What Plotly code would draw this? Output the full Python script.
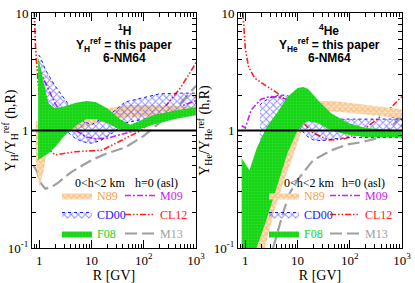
import plotly.graph_objects as go

# ================= data: left panel (1H) =================
H_N89_R  = [0.85, 1.0, 1.2, 1.5, 2, 3, 5, 10, 20, 50, 100, 300, 1000]
H_N89_lo = [0.55, 0.33, 0.45, 0.8, 0.88, 0.95, 1.02, 1.12, 1.22, 1.3, 1.3, 1.33, 1.35]
H_N89_hi = [1.2, 1.2, 1.15, 1.1, 1.12, 1.18, 1.28, 1.42, 1.55, 1.65, 1.65, 1.62, 1.6]

H_CD00_R  = [0.97, 1.05, 1.3, 1.6, 2, 3.2, 5, 7, 10, 15, 25, 44, 100, 200, 500, 1000]
H_CD00_lo = [2.8, 2.6, 1.9, 1.5, 1.25, 1.0, 0.85, 0.8, 0.78, 0.82, 0.95, 1.16, 1.25, 1.3, 1.45, 1.5]
H_CD00_hi = [4.4, 4.2, 3.3, 2.8, 2.4, 1.8, 1.35, 1.2, 1.12, 1.25, 1.42, 1.75, 1.9, 2.05, 2.08, 2.08]

H_F08_R  = [0.95, 1.0, 1.2, 1.5, 2, 3, 5, 8, 12, 20, 35, 55, 80, 150, 400, 1000]
H_F08_lo = [0.56, 0.56, 0.6, 0.64, 0.72, 0.9, 1.1, 1.25, 1.25, 1.15, 1.02, 0.98, 1.02, 1.12, 1.25, 1.35]
H_F08_hi = [4.2, 3.8, 2.5, 1.7, 1.55, 1.6, 1.72, 1.78, 1.75, 1.55, 1.25, 1.12, 1.2, 1.35, 1.48, 1.58]

H_M09_R = [1, 1.5, 2, 3, 5, 8, 12, 20, 40, 70, 100, 200, 500, 1000]
H_M09_Y = [3.3, 2.2, 1.7, 1.3, 1.0, 0.88, 0.85, 0.86, 0.93, 1.0, 1.1, 1.3, 1.6, 1.8]

H_CL12_R = [0.8, 0.85, 0.95, 1.2, 1.6, 2.0, 4.9, 16, 45, 88, 213, 500, 870, 1000]
H_CL12_Y = [10, 5, 2.5, 1.0, 0.68, 0.62, 0.66, 0.68, 0.86, 1.0, 1.44, 2.3, 3.4, 3.8]

H_M13_R = [0.78, 0.9, 1.05, 1.3, 1.7, 2.3, 4, 10, 20, 45, 100, 200, 500, 1000]
H_M13_Y = [0.5, 0.45, 0.36, 0.32, 0.33, 0.36, 0.44, 0.56, 0.64, 0.72, 0.9, 1.16, 1.7, 2.4]

# ================= data: right panel (4He) =================
He_N89_R  = [1.5, 2.36, 3.5, 5, 7, 10, 12, 15, 20, 30, 50, 100, 200, 500, 1000]
He_N89_lo = [0.09, 0.1, 0.2, 0.33, 0.5, 0.78, 1.0, 1.25, 1.4, 1.45, 1.45, 1.42, 1.38, 1.32, 1.28]
He_N89_hi = [0.1, 0.3, 0.55, 0.9, 1.3, 1.55, 1.7, 1.72, 1.75, 1.78, 1.78, 1.72, 1.66, 1.58, 1.52]

He_CD00_R  = [1.9, 2.2, 3, 4.5, 6, 8, 11, 15, 20, 30, 50, 100, 200, 500, 1000]
He_CD00_lo = [0.62, 0.7, 0.85, 1.05, 1.25, 1.3, 1.05, 0.9, 0.83, 0.82, 0.85, 0.87, 0.87, 0.87, 0.87]
He_CD00_hi = [1.65, 1.75, 1.9, 2.0, 2.0, 1.9, 1.7, 1.55, 1.4, 1.3, 1.25, 1.25, 1.25, 1.25, 1.25]

He_F08_R  = [0.85, 1.0, 1.2, 1.64, 2.5, 4, 6.4, 10, 13, 16, 25, 44, 95, 200, 1000]
He_F08_lo = [0.09, 0.09, 0.09, 0.1, 0.17, 0.33, 0.64, 1.0, 1.15, 1.2, 1.15, 1.0, 0.92, 0.88, 0.87]
He_F08_hi = [0.58, 0.52, 0.46, 0.7, 1.05, 1.4, 1.93, 2.3, 2.35, 2.25, 1.8, 1.4, 1.15, 1.05, 1.0]

He_M09_R = [0.85, 1.0, 1.3, 2, 3, 5, 10, 20, 50, 100, 200, 500, 1000]
He_M09_Y = [1.1, 1.05, 1.5, 1.85, 1.95, 1.9, 1.75, 1.6, 1.5, 1.5, 1.45, 1.35, 1.25]

He_CL12_R = [0.9, 0.95, 1.0, 1.15, 1.5, 2.5, 4, 6, 10, 20, 40, 80, 150, 300, 600, 1000]
He_CL12_Y = [10, 7, 5, 3.5, 2.8, 2.4, 2.1, 1.8, 1.3, 0.95, 0.83, 0.85, 0.95, 1.2, 1.55, 1.95]

He_M13_R = [3.4, 4.2, 5.3, 7, 10, 20, 45, 90, 180, 310, 600, 1000]
He_M13_Y = [0.1, 0.14, 0.2, 0.29, 0.38, 0.56, 0.68, 0.76, 0.8, 0.85, 1.05, 1.35]

x_tickvals = [1, 10, 100, 1000]
x_ticktext = ["1", "10", "10<sup>2</sup>", "10<sup>3</sup>"]
y_tickvals = [0.1, 1, 10]
y_ticktext = ["10<sup>-1</sup>", "1", "10"]

# ================= styles =================
ORANGE = "#f5a04a"
BLUE = "#1a1aff"
GREEN = "#14d414"
MAGENTA = "#cc22ee"
RED = "#ff2020"
GRAY = "#a0a0a0"
SERIF = "Liberation Serif, Times New Roman, serif"
SANS = "Liberation Sans, Arial, sans-serif"

def band(R, lo, hi, name, style, xa, ya, legend, showlegend=True):
    xs = list(R) + list(R)[::-1]
    ys = list(hi) + list(lo)[::-1]
    return go.Scatter(x=xs, y=ys, xaxis=xa, yaxis=ya, mode="lines", fill="toself",
                      name=name, legend=legend, showlegend=showlegend, **style)

N89_style = dict(line=dict(width=0, color=ORANGE), fillcolor="#fbd3a6",
                 fillpattern=dict(shape="x", fgcolor=ORANGE, bgcolor="#fde3c4", size=4, solidity=0.55))
CD00_style = dict(line=dict(width=1, color=BLUE, dash="dot"), fillcolor="rgba(255,255,255,0)",
                  fillpattern=dict(shape="x", fgcolor=BLUE, bgcolor="rgba(255,255,255,0)", size=5, solidity=0.35))
F08_style = dict(line=dict(width=0, color=GREEN), fillcolor=GREEN,
                 fillpattern=dict(shape="+", fgcolor="#5cf05c", bgcolor=GREEN, size=3, solidity=0.25))

def lab(txt, col):
    return '<span style="color:%s">%s</span>' % (col, txt)

def line(R, Y, name, color, dash, width, xa, ya, legend):
    return go.Scatter(x=R, y=Y, xaxis=xa, yaxis=ya, mode="lines", name=name, legend=legend,
                      line=dict(color=color, dash=dash, width=width))

DASH_CL12 = "6px,2px,1.5px,2px,1.5px,2px"
DASH_M09 = "6px,2px,2px,2px"

fig = go.Figure()
# lines first (drawn underneath the bands), then the bands
for xa, ya, lg, data in (
    ("x", "y", "legend2", ((H_M09_R, H_M09_Y), (H_CL12_R, H_CL12_Y), (H_M13_R, H_M13_Y))),
    ("x2", "y2", "legend4", ((He_M09_R, He_M09_Y), (He_CL12_R, He_CL12_Y), (He_M13_R, He_M13_Y))),
):
    (m09, cl12, m13) = data
    fig.add_trace(line(m09[0], m09[1], lab("M09", MAGENTA), MAGENTA, DASH_M09, 1.6, xa, ya, lg))
    fig.add_trace(line(cl12[0], cl12[1], lab("CL12", RED), RED, DASH_CL12, 1.6, xa, ya, lg))
    fig.add_trace(line(m13[0], m13[1], lab("M13", GRAY), GRAY, "12px,5px", 2.2, xa, ya, lg))

fig.add_trace(band(H_N89_R, H_N89_lo, H_N89_hi, lab("N89", ORANGE), N89_style, "x", "y", "legend"))
fig.add_trace(band(H_CD00_R, H_CD00_lo, H_CD00_hi, lab("CD00", BLUE), CD00_style, "x", "y", "legend"))
fig.add_trace(band(H_F08_R, H_F08_lo, H_F08_hi, lab("F08", GREEN), F08_style, "x", "y", "legend"))
fig.add_trace(band(He_N89_R, He_N89_lo, He_N89_hi, lab("N89", ORANGE), N89_style, "x2", "y2", "legend3"))
fig.add_trace(band(He_CD00_R, He_CD00_lo, He_CD00_hi, lab("CD00", BLUE), CD00_style, "x2", "y2", "legend3"))
fig.add_trace(band(He_F08_R, He_F08_lo, He_F08_hi, lab("F08", GREEN), F08_style, "x2", "y2", "legend3"))

W, H = 415, 283
def px_x(p): return p / W
def px_y(p): return 1 - p / H

minor_x = [m * 10 ** k for k in range(-1, 3) for m in range(2, 10)]
minor_y = [m * 10 ** k for k in range(-1, 1) for m in range(2, 10)]

def xaxis(domain, anchor):
    return dict(type="log", range=[-0.14, 3.0], domain=domain, anchor=anchor, automargin=False,
                tickvals=x_tickvals, ticktext=x_ticktext, ticks="inside", ticklen=8,
                tickcolor="black", showline=True, linecolor="black", linewidth=1, mirror="ticks",
                showgrid=False, zeroline=False, tickfont=dict(family=SERIF, size=13, color="black"),
                minor=dict(tickvals=minor_x, ticks="inside", ticklen=4, tickcolor="black", showgrid=False),
                title=dict(text="R [GV]", font=dict(family=SERIF, size=14, color="black"), standoff=2))

def yaxis(domain, anchor, title):
    return dict(type="log", range=[-1, 1], domain=domain, anchor=anchor, automargin=False,
                tickvals=y_tickvals, ticktext=y_ticktext, ticks="inside", ticklen=8,
                tickcolor="black", showline=True, linecolor="black", linewidth=1, mirror="ticks",
                showgrid=False, zeroline=False, tickfont=dict(family=SERIF, size=13, color="black"),
                minor=dict(tickvals=minor_y, ticks="inside", ticklen=4, tickcolor="black", showgrid=False),
                title=dict(text=title, font=dict(family=SERIF, size=14, color="black"), standoff=0))

ydom = [35 / H, 270 / H]
legfont = dict(family=SERIF, size=12, color="black")
def leg(x):
    return dict(x=x, y=px_y(181), xanchor="left", yanchor="top", bgcolor="rgba(0,0,0,0)",
                font=legfont, itemwidth=30, tracegroupgap=0, traceorder="normal")

fig.update_layout(
    width=W, height=H, margin=dict(l=0, r=0, t=0, b=0, autoexpand=False),
    paper_bgcolor="white", plot_bgcolor="white",
    xaxis=xaxis([32 / W, 196 / W], "y"),
    yaxis=yaxis(ydom, "x", "Y<sub>H</sub>/Y<sub>H</sub><sup>ref</sup> (h,R)"),
    xaxis2=xaxis([238 / W, 402 / W], "y2"),
    yaxis2=yaxis(ydom, "x2", "Y<sub>He</sub>/Y<sub>He</sub><sup>ref</sup> (h,R)"),
    legend=leg(px_x(57)),
    legend2=leg(px_x(120)),
    legend3=leg(px_x(264)),
    legend4=leg(px_x(325)),
)

for xr, yr in (("x", "y"), ("x2", "y2")):
    fig.add_shape(type="line", xref=xr + " domain", yref=yr, x0=0, x1=1, y0=1, y1=1,
                  line=dict(color="black", width=2.2), layer="above")

# legend column headers
for hx, txt in ((73, "0&lt;h&lt;2 km"), (133, "h=0 (asl)"), (282, "0&lt;h&lt;2 km"), (340, "h=0 (asl)")):
    fig.add_annotation(x=px_x(hx), y=px_y(183), xref="paper", yref="paper", text=txt,
                       xanchor="left", yanchor="middle", showarrow=False, font=legfont)

anno_font = dict(family=SANS, size=12, color="black")
for cx, nuc, sub in ((124, "<sup>1</sup>H", "H"), (329, "<sup>4</sup>He", "He")):
    fig.add_annotation(x=px_x(cx), y=px_y(30), xref="paper", yref="paper", text="<b>%s</b>" % nuc,
                       xanchor="center", yanchor="middle", showarrow=False, font=anno_font)
    fig.add_annotation(x=px_x(cx), y=px_y(45), xref="paper", yref="paper",
                       text="<b>Y<sub>%s</sub><sup>ref</sup> = this paper</b>" % sub,
                       xanchor="center", yanchor="middle", showarrow=False, font=anno_font)
    fig.add_annotation(x=px_x(cx), y=px_y(58), xref="paper", yref="paper", text="<b>6-NM64</b>",
                       xanchor="center", yanchor="middle", showarrow=False, font=anno_font)

fig.write_html("out.html", config={"displayModeBar": False},
               post_script="document.body.style.margin='0px';")
